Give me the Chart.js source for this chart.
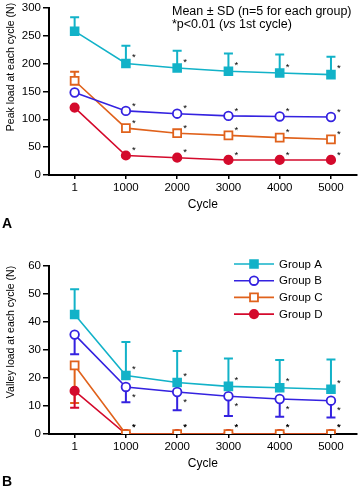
<!DOCTYPE html>
<html>
<head>
<meta charset="utf-8">
<script src="https://cdn.jsdelivr.net/npm/chart.js@4.4.1/dist/chart.umd.min.js"></script>
<style>
body { margin: 0; background: #fff; font-family: "Liberation Sans", Arial, sans-serif; color: #000; }
#wrap { position: relative; width: 364px; height: 490px; overflow: hidden; }
canvas { position: absolute; left: 0; }
.ytitle { position: absolute; font-size: 10.5px; white-space: nowrap; transform: translate(-50%, -50%) rotate(-90deg); }
.panel { position: absolute; left: 2px; font-weight: bold; font-size: 14px; }
.note { position: absolute; left: 172px; font-size: 12.5px; line-height: 13px; white-space: nowrap; }
</style>
</head>
<body>
<div id="wrap">
  <canvas id="peakChart" width="364" height="240" style="top:0px"></canvas>
  <canvas id="valleyChart" width="364" height="250" style="top:240px"></canvas>
  <div class="ytitle" style="left:10px; top:67px">Peak load at each cycle (N)</div>
  <div class="ytitle" style="left:10px; top:332px">Valley load at each cycle (N)</div>
  <div class="note" style="top:5px">Mean &plusmn; SD (n=5 for each group)</div>
  <div class="note" style="top:18px">*p&lt;0.01 (<i>vs</i> 1st cycle)</div>
  <div class="panel" style="top:215px">A</div>
  <div class="panel" style="top:473px">B</div>
</div>
<script>
// ---------- datos ----------
const cycles = ['1', '1000', '2000', '3000', '4000', '5000'];
const groups = ['Group A', 'Group B', 'Group C', 'Group D'];

const peakTicks = [0, 50, 100, 150, 200, 250, 300];
const valleyTicks = [0, 10, 20, 30, 40, 50, 60];

// peak load (N)
const peakA = [258, 200, 192, 186, 183, 180];
const peakB = [148, 115, 110, 106, 105, 104];
const peakC = [169, 84, 75, 71, 67, 64];
const peakD = [121, 35, 31, 27, 27, 27];
const peakSdA = [25, 32, 31, 32, 33, 32];
const peakSdB = [0, 0, 0, 0, 0, 0];
const peakSdC = [16, 0, 0, 0, 0, 0];
const peakSdD = [0, 0, 0, 0, 0, 0];

// valley load (N)
const valleyA = [42.7, 20.9, 18.4, 17, 16.5, 16];
const valleyB = [35.5, 16.8, 15, 13.5, 12.5, 11.9];
const valleyC = [24.5, 0, 0, 0, 0, 0];
const valleyD = [15.4, 0, 0, 0, 0, 0];
const valleySdA = [9, 12, 11.2, 10, 9.9, 10.6];
const valleySdB = [7, 5.5, 6.5, 7.1, 6.3, 6];
const valleySdC = [13.4, 0, 0, 0, 0, 0];
const valleySdD = [6, 0, 0, 0, 0, 0];

const colors = ['#12b2c8', '#3422e0', '#e0621c', '#d40a2c'];
const FONT = '"Liberation Sans", Arial, sans-serif';

// ---------- plugins ----------
const errorBars = {
  id: 'errorBars',
  beforeDatasetsDraw(chart) {
    let ctx = chart.ctx;
    let yScale = chart.scales.y;
    chart.data.datasets.forEach((ds, i) => {
      let meta = chart.getDatasetMeta(i);
      ctx.save();
      ctx.strokeStyle = ds.borderColor;
      ctx.lineWidth = 2;
      meta.data.forEach((pt, j) => {
        let sd = ds.sd[j];
        if (!sd) return;
        let end = yScale.getPixelForValue(ds.data[j] + ds.errDir * sd);
        ctx.beginPath();
        ctx.moveTo(pt.x, pt.y);
        ctx.lineTo(pt.x, end);
        ctx.moveTo(pt.x - 4.5, end);
        ctx.lineTo(pt.x + 4.5, end);
        ctx.stroke();
      });
      ctx.restore();
    });
  }
};

const stars = {
  id: 'stars',
  afterDatasetsDraw(chart) {
    let ctx = chart.ctx;
    ctx.save();
    ctx.fillStyle = '#000';
    ctx.font = '9.5px ' + FONT;
    ctx.textAlign = 'center';
    ctx.textBaseline = 'middle';
    chart.data.datasets.forEach((ds, i) => {
      let meta = chart.getDatasetMeta(i);
      meta.data.forEach((pt, j) => {
        if (j === 0) return;
        ctx.fillText('*', pt.x + 8, pt.y + ds.starDy);
      });
    });
    ctx.restore();
  }
};

const lineLegend = {
  id: 'lineLegend',
  afterDraw(chart) {
    let ctx = chart.ctx;
    ctx.save();
    chart.data.datasets.forEach((ds, i) => {
      let y = 24 + i * 16.7;
      ctx.strokeStyle = ds.borderColor;
      ctx.lineWidth = 1.6;
      ctx.beginPath();
      ctx.moveTo(234, y);
      ctx.lineTo(274, y);
      ctx.stroke();
      ctx.fillStyle = ds.pointBackgroundColor;
      ctx.lineWidth = ds.pointBorderWidth;
      Chart.helpers.drawPoint(ctx, {
        pointStyle: ds.pointStyle,
        radius: ds.pointRadius,
        borderWidth: ds.pointBorderWidth,
        rotation: 0
      }, 254, y);
      ctx.fillStyle = '#000';
      ctx.font = '11.5px ' + FONT;
      ctx.textAlign = 'left';
      ctx.textBaseline = 'middle';
      ctx.fillText(ds.label, 279, y + 0.5);
    });
    ctx.restore();
  }
};

// ---------- creación ----------
function makeDataset(i, data, sd, errDir, starDy) {
  let styles = ['rect', 'circle', 'rect', 'circle'];
  let radii = [5.5, 4.3, 5.6, 4.2];
  let filled = [true, false, false, true];
  return {
    label: groups[i],
    data: data,
    sd: sd,
    errDir: errDir,
    starDy: starDy,
    borderColor: colors[i],
    borderWidth: 1.6,
    tension: 0,
    pointStyle: styles[i],
    pointRadius: radii[i],
    pointBorderWidth: 1.8,
    pointBorderColor: colors[i],
    pointBackgroundColor: filled[i] ? colors[i] : '#fff'
  };
}

function crearGrafico(id, datasets, ticks, padding, plugins) {
  let ctx = document.getElementById(id).getContext('2d');
  return new Chart(ctx, {
    type: 'line',
    data: { labels: cycles, datasets: datasets },
    options: {
      responsive: false,
      animation: false,
      devicePixelRatio: 1,
      layout: { padding: padding },
      plugins: { legend: { display: false }, tooltip: { enabled: false } },
      scales: {
        x: {
          offset: true,
          grid: { display: true, drawOnChartArea: false, drawTicks: true, tickLength: 4, color: '#000', lineWidth: 1.5, offset: false },
          border: { color: '#000', width: 2 },
          ticks: { color: '#000', font: { family: FONT, size: 11.5 }, padding: 2, maxRotation: 0, autoSkip: false },
          title: { display: true, text: 'Cycle', color: '#000', font: { family: FONT, size: 12 }, padding: { top: 0, bottom: 2.8 } },
          afterFit: s => { s.height = 40; }
        },
        y: {
          min: ticks[0],
          max: ticks[ticks.length - 1],
          afterBuildTicks: s => { s.ticks = ticks.map(v => ({ value: v })); },
          grid: { drawOnChartArea: false, drawTicks: true, tickLength: 6, color: '#000', lineWidth: 1.5 },
          border: { color: '#000', width: 2 },
          ticks: { color: '#000', font: { family: FONT, size: 11.5, lineHeight: 1 }, padding: 2 },
          afterFit: s => { s.width = 49; }
        }
      }
    },
    plugins: plugins
  });
}

crearGrafico('peakChart', [
  makeDataset(0, peakA, peakSdA, 1, -6),
  makeDataset(1, peakB, peakSdB, 1, -5),
  makeDataset(2, peakC, peakSdC, 1, -5),
  makeDataset(3, peakD, peakSdD, 1, -5)
], peakTicks, { top: 6, right: 0, bottom: 25, left: 0 }, [errorBars, stars]);

crearGrafico('valleyChart', [
  makeDataset(0, valleyA, valleySdA, 1, -6),
  makeDataset(1, valleyB, valleySdB, -1, 10),
  makeDataset(2, valleyC, valleySdC, -1, -7),
  makeDataset(3, valleyD, valleySdD, -1, -7)
], valleyTicks, { top: 26, right: 0, bottom: 16, left: 0 }, [errorBars, stars, lineLegend]);
</script>
</body>
</html>
